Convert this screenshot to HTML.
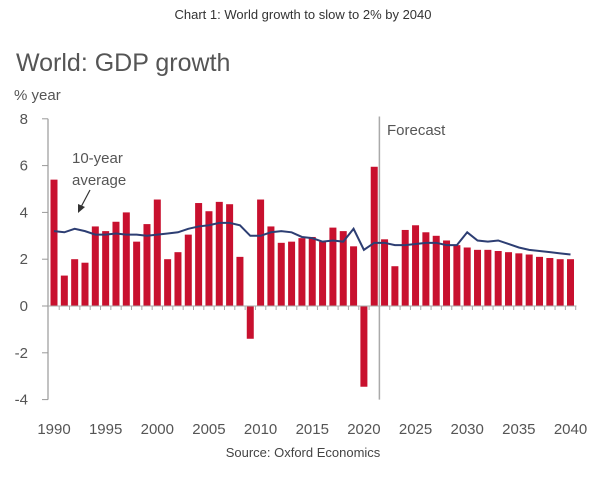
<!DOCTYPE html>
<html><head><meta charset="utf-8"><style>
body{margin:0;background:#fff;width:607px;height:490px;overflow:hidden;font-family:"Liberation Sans",sans-serif}
</style></head><body>
<svg width="607" height="490">
<text x="303" y="19" text-anchor="middle" font-size="13" fill="#333">Chart 1: World growth to slow to 2% by 2040</text>
<text x="16" y="71" font-size="25" fill="#555">World: GDP growth</text>
<text x="14" y="100" font-size="15" fill="#555">% year</text>
<g id="g"></g>
<text x="387" y="135" font-size="15" fill="#555">Forecast</text>
<text x="72" y="163" font-size="15" fill="#555">10-year</text>
<text x="72" y="185" font-size="15" fill="#555">average</text>
<line x1="90" y1="190" x2="81" y2="207" stroke="#333" stroke-width="1.2"/>
<polygon points="78,213 78,204 85,207" fill="#333"/>
<text x="303" y="457" text-anchor="middle" font-size="13" fill="#444">Source: Oxford Economics</text>
</svg>
<script>
const years=[];for(let y=1990;y<=2040;y++)years.push(y);
const growth=[5.4,1.3,2.0,1.85,3.4,3.2,3.6,4.0,2.75,3.5,4.55,2.0,2.3,3.05,4.4,4.05,4.45,4.35,2.1,-1.4,4.55,3.4,2.7,2.75,2.9,2.95,2.75,3.35,3.2,2.55,-3.45,5.95,2.85,1.7,3.25,3.45,3.15,3.0,2.8,2.6,2.5,2.4,2.4,2.35,2.3,2.25,2.2,2.1,2.05,2.0,2.0];
const avg10=[3.2,3.15,3.3,3.2,3.05,3.05,3.1,3.05,3.05,3.0,3.05,3.1,3.15,3.3,3.4,3.45,3.55,3.55,3.45,3.0,3.0,3.15,3.2,3.15,2.95,2.9,2.75,2.8,2.75,3.3,2.4,2.7,2.7,2.6,2.6,2.65,2.7,2.7,2.6,2.6,3.15,2.8,2.75,2.8,2.65,2.5,2.4,2.35,2.3,2.25,2.2];
const yTicks=[8,6,4,2,0,-2,-4];
const xTicks=[1990,1995,2000,2005,2010,2015,2020,2025,2030,2035,2040];
const forecastStart=2021.5;
const NS="http://www.w3.org/2000/svg",g=document.getElementById('g');
const X=y=>54+(y-1990)*10.33, Y=v=>306-v*23.4;
function mk(t,a){const e=document.createElementNS(NS,t);for(const k in a)e.setAttribute(k,a[k]);g.appendChild(e);return e;}
let e=mk('line',{x1:48,x2:48,y1:Y(8),y2:Y(-4),stroke:'#999','stroke-width':1.2});


yTicks.forEach(v=>{
 let t=mk('line',{x1:42,x2:48,y1:Y(v),y2:Y(v),stroke:'#999'});
 
 
 let l=mk('text',{x:28,y:Y(v)+5,'text-anchor':'end','font-size':15,fill:'#555'});l.textContent=v;
 
 
});
years.forEach((yr,i)=>{
 const v=growth[i];
 let r=mk('rect',{x:X(yr)-3.5,y:Math.min(Y(v),Y(0)),width:7,height:Math.abs(Y(v)-Y(0)),fill:'#c8102e'});
 
 
 let t=mk('line',{x1:X(yr)+5.2,x2:X(yr)+5.2,y1:Y(0),y2:Y(0)+4,stroke:'#aaa'});
 
 
});
let ax=mk('line',{x1:48,x2:X(2040)+6,y1:Y(0),y2:Y(0),stroke:'#aaa'});


let fl=mk('line',{x1:X(forecastStart),x2:X(forecastStart),y1:Y(8.1),y2:Y(-4),stroke:'#aaa','stroke-width':1.5});


let p=mk('polyline',{points:years.map((yr,i)=>X(yr)+','+Y(avg10[i])).join(' '),fill:'none',stroke:'#2d3e73','stroke-width':2});


xTicks.forEach(yr=>{
 let l=mk('text',{x:X(yr),y:434,'text-anchor':'middle','font-size':15,fill:'#555'});l.textContent=yr;
 
 
});
</script>
</body></html>
